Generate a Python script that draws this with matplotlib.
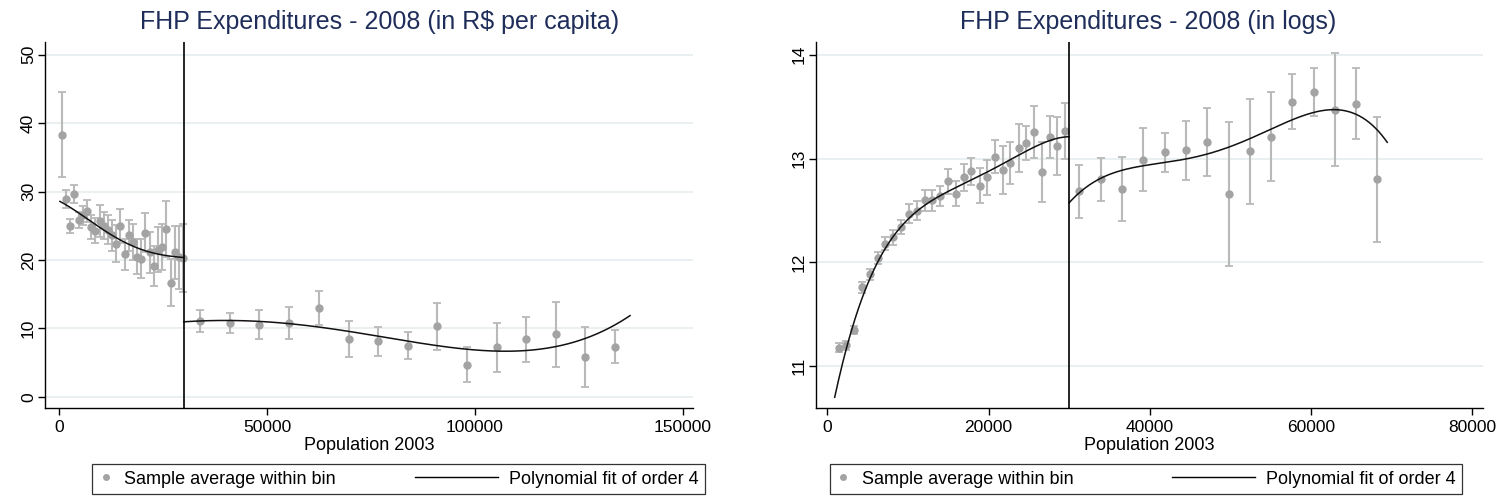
import matplotlib
matplotlib.use("Agg")
import matplotlib.pyplot as plt
import numpy as np
from matplotlib.lines import Line2D
from matplotlib.legend_handler import HandlerBase

plt.rcParams['font.family'] = ['Liberation Sans', 'DejaVu Sans']

# ---- left panel: expenditures in R$ per capita ----
rs_x_below = [721, 1683, 2724, 3686, 4808, 5769, 6731, 7692, 8654, 9776,
              10737, 11699, 12740, 13782, 14744, 15785, 16747, 17788, 18750, 19792,
              20753, 21795, 22837, 23798, 24760, 25801, 26843, 27804, 28766, 29728]
rs_y_below = [38.3, 28.9, 25.0, 29.6, 25.8, 26.5, 27.1, 24.8, 24.3, 25.7,
              25.0, 24.4, 23.6, 22.4, 25.0, 20.8, 23.6, 22.6, 20.5, 20.2,
              24.0, 21.1, 19.1, 21.5, 21.9, 24.5, 16.7, 21.1, 20.4, 20.3]
rs_e_below = [6.2, 1.3, 1.0, 1.35, 1.2, 1.4, 1.6, 1.7, 1.8, 2.3,
              2.0, 2.1, 2.3, 2.7, 2.5, 2.3, 2.3, 2.6, 2.6, 2.8,
              2.9, 3.0, 2.9, 3.3, 3.4, 4.1, 3.4, 3.9, 4.6, 5.0]
rs_x_above = [33894, 41026, 48077, 55208, 62420, 69631, 76683, 83814,
              90865, 97997, 105208, 112340, 119391, 126522, 133654]
rs_y_above = [11.08, 10.79, 10.54, 10.79, 12.98, 8.44, 8.10, 7.47,
              10.30, 4.69, 7.22, 8.40, 9.12, 5.81, 7.32]
rs_e_above = [1.55, 1.42, 2.1, 2.3, 2.5, 2.6, 2.1, 2.0,
              3.4, 2.6, 3.6, 3.3, 4.7, 4.45, 2.45]
# fitted curve
rs_fit_x_below = [240, 7050, 13060, 19470, 24280, 30000]
rs_fit_y_below = [28.55, 25.9, 23.5, 21.6, 20.8, 20.35]
rs_fit_x_above = [30000, 48320, 61140, 73150, 85180, 97200, 109200, 121230, 129250, 137260]
rs_fit_y_above = [10.98, 10.88, 10.49, 9.17, 7.96, 6.98, 6.69, 7.61, 9.17, 11.86]

# ---- right panel: expenditures in logs ----
lg_x_below = [1404, 2360, 3350, 4300, 5260, 6250, 7200, 8200, 9150, 10140,
              11090, 12080, 13040, 13990, 14980, 15940, 16930, 17880, 18880, 19830,
              20780, 21770, 22720, 23720, 24670, 25660, 26610, 27600, 28530, 29520]
lg_y_below = [11.18, 11.20, 11.35, 11.76, 11.885, 12.04, 12.18, 12.24, 12.34, 12.47,
              12.50, 12.60, 12.60, 12.64, 12.78, 12.66, 12.82, 12.88, 12.74, 12.82,
              13.02, 12.89, 12.96, 13.10, 13.15, 13.26, 12.87, 13.21, 13.12, 13.27]
lg_e_below = [0.04, 0.04, 0.04, 0.05, 0.05, 0.06, 0.06, 0.07, 0.07, 0.09,
              0.09, 0.10, 0.10, 0.10, 0.12, 0.12, 0.13, 0.13, 0.17, 0.17,
              0.16, 0.23, 0.20, 0.23, 0.16, 0.25, 0.29, 0.20, 0.28, 0.27]
lg_x_above = [31260, 33950, 36600, 39210, 41860, 44510, 47160, 49810,
              52420, 55030, 57680, 60330, 62980, 65630, 68240]
lg_y_above = [12.685, 12.80, 12.71, 12.99, 13.06, 13.08, 13.16, 12.66,
              13.07, 13.21, 13.55, 13.64, 13.47, 13.53, 12.80]
lg_e_above = [0.255, 0.21, 0.31, 0.305, 0.185, 0.285, 0.33, 0.69,
              0.505, 0.43, 0.265, 0.23, 0.545, 0.345, 0.60]
lg_fit_x_below = [907, 3350, 5260, 7200, 9150, 11090, 13990, 16930, 19830, 22720, 25660, 28000, 30000]
lg_fit_y_below = [10.72, 11.38, 11.87, 12.16, 12.33, 12.50, 12.64, 12.75, 12.87, 12.99, 13.12, 13.18, 13.21]
lg_fit_x_above = [30000, 33950, 36600, 41860, 47160, 52420, 57680, 62980, 65630, 69480]
lg_fit_y_above = [12.57, 12.82, 12.89, 12.95, 13.05, 13.19, 13.38, 13.47, 13.42, 13.16]

cutoff = 30000
title_color = '#1f2d5a'
grid_color = '#e6eef0'
dot_color = '#a3a3a3'
bar_color = '#b9b9b9'


def poly_curve(xs, ys):
    # order 4 polynomial through the points
    xs = np.array(xs) / 1e4
    c = np.polyfit(xs, ys, 4)
    xx = np.linspace(xs[0], xs[-1], 300)
    return xx * 1e4, np.polyval(c, xx)


class DotHandler(HandlerBase):
    def create_artists(self, legend, orig_handle, xdescent, ydescent, width, height, fontsize, trans):
        d = Line2D([width / 2 - xdescent], [height / 2 - ydescent], marker='o', ms=4,
                   color=dot_color, linestyle='none', transform=trans)
        return [d]


class LongLineHandler(HandlerBase):
    def create_artists(self, legend, orig_handle, xdescent, ydescent, width, height, fontsize, trans):
        y = height / 2 - ydescent
        ln = Line2D([width - 4.6 * fontsize, width], [y, y], color='black', lw=1.0, transform=trans)
        return [ln]


def draw_panel(ax, xb, yb, eb, xa, ya, ea, fxb, fyb, fxa, fya):
    for x, y, e in [(xb, yb, eb), (xa, ya, ea)]:
        ax.errorbar(x, y, yerr=e, fmt='none', ecolor=bar_color, elinewidth=1.5,
                    capsize=3.2, capthick=1.3, zorder=2)
        ax.plot(x, y, 'o', color=dot_color, ms=5, zorder=3)
    for fx, fy in [(fxb, fyb), (fxa, fya)]:
        cx, cy = poly_curve(fx, fy)
        ax.plot(cx, cy, color='#111111', lw=1.1, zorder=4)
    ax.axvline(cutoff, color='black', lw=1.2, zorder=5)
    ax.grid(axis='y', color=grid_color, lw=1.2)
    ax.set_axisbelow(True)
    for s in ['top', 'right']:
        ax.spines[s].set_visible(False)
    for s in ['left', 'bottom']:
        ax.spines[s].set_linewidth(1.0)
    ax.tick_params(direction='out', length=5, width=1, labelsize=12.5)
    ax.tick_params(axis='y', pad=1.5)
    ax.set_xlabel('Population 2003', fontsize=13, labelpad=2)


fig = plt.figure(figsize=(15.03, 5.04), dpi=100)
ax1 = fig.add_axes([0.0299, 0.191, 0.4312, 0.725])
ax2 = fig.add_axes([0.5429, 0.191, 0.4438, 0.725])

draw_panel(ax1, rs_x_below, rs_y_below, rs_e_below, rs_x_above, rs_y_above, rs_e_above,
           rs_fit_x_below, rs_fit_y_below, rs_fit_x_above, rs_fit_y_above)
ax1.set_xlim(-3365, 152400)
ax1.set_ylim(-1.6, 51.8)
ax1.set_xticks([0, 50000, 100000, 150000])
ax1.set_yticks([0, 10, 20, 30, 40, 50])
plt.setp(ax1.get_yticklabels(), rotation=90, va='center')

draw_panel(ax2, lg_x_below, lg_y_below, lg_e_below, lg_x_above, lg_y_above, lg_e_above,
           lg_fit_x_below, lg_fit_y_below, lg_fit_x_above, lg_fit_y_above)
ax2.set_xlim(-1416, 81366)
ax2.set_ylim(10.60, 14.12)
ax2.set_xticks([0, 20000, 40000, 60000, 80000])
ax2.set_yticks([11, 12, 13, 14])
plt.setp(ax2.get_yticklabels(), rotation=90, va='center')

fig.text(0.2528, 0.956, 'FHP Expenditures - 2008 (in R$ per capita)', ha='center', va='center',
         fontsize=18, color=title_color)
fig.text(0.764, 0.956, 'FHP Expenditures - 2008 (in logs)', ha='center', va='center',
         fontsize=18, color=title_color)

dot_h = Line2D([], [], marker='o', linestyle='none')
line_h = Line2D([], [], color='black')
for ax, x0, w in [(ax1, 0.0612, 0.4079), (ax2, 0.5522, 0.4205)]:
    leg = ax.legend([dot_h, line_h], ['Sample average within bin', 'Polynomial fit of order 4'],
                    handler_map={dot_h: DotHandler(), line_h: LongLineHandler()},
                    loc='lower left', bbox_to_anchor=(x0, 0.02, w, 0.06),
                    bbox_transform=fig.transFigure, mode='expand', ncol=2,
                    fontsize=13, handlelength=0.8, handletextpad=0.6,
                    borderaxespad=0, borderpad=0.35, fancybox=False, framealpha=1)
    leg.get_frame().set_edgecolor('#333333')
    leg.get_frame().set_linewidth(0.9)

fig.savefig('out.png', dpi=100)
